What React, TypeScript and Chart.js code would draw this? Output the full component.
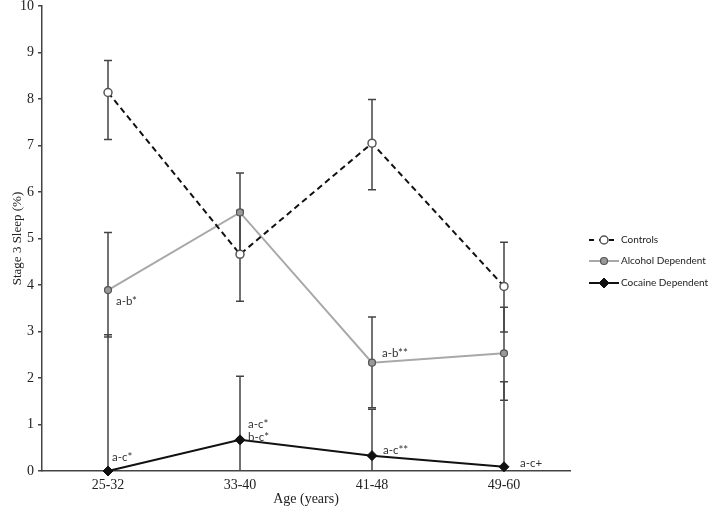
import React, { useEffect, useRef } from 'react';
import { Chart, registerables } from 'chart.js';

Chart.register(...registerables);

const categories = ['25-32', '33-40', '41-48', '49-60'];

const controls = [8.14, 4.66, 7.05, 3.97];
const controlsLow = [7.13, 3.65, 6.05, 2.99];
const controlsHigh = [8.83, 5.6, 7.99, 4.92];

const alcohol = [3.89, 5.56, 2.33, 2.53];
const alcoholLow = [2.88, 4.71, 1.36, 1.52];
const alcoholHigh = [5.13, 6.41, 3.31, 3.52];

const cocaine = [0, 0.67, 0.33, 0.09];
const cocaineLow = [0, 0, 0, 0];
const cocaineHigh = [2.93, 2.04, 1.33, 1.92];

const seriesNames = ['Controls', 'Alcohol Dependent', 'Cocaine Dependent'];

// significance labels: [seriesIndex, categoryIndex, text lines]
const annotationSeries = [1, 2, 2, 1, 2, 2];
const annotationIndex = [0, 0, 1, 2, 2, 3];
const annotationText = [['a-b*'], ['a-c*'], ['a-c*', 'b-c*'], ['a-b**'], ['a-c**'], ['a-c+']];
// label offsets relative to the point (style only)
const annotationOffset = [[8, 11], [4, -14], [8, -16], [10, -9], [11, -5], [16, -4]];

const AXIS = '#444';
const SERIF = '"Liberation Serif", "Times New Roman", serif';
const SANS = 'Lato, "Open Sans", sans-serif';

const lows = [controlsLow, alcoholLow, cocaineLow];
const highs = [controlsHigh, alcoholHigh, cocaineHigh];

const errorBarPlugin = {
  id: 'errorBars',
  beforeDatasetsDraw(chart: any) {
    const { ctx, scales } = chart;
    const xs = scales.x;
    const ys = scales.y;
    ctx.save();
    ctx.strokeStyle = AXIS;
    ctx.lineWidth = 1.5;
    ctx.setLineDash([]);
    for (let s = 0; s < 3; s++) {
      for (let i = 0; i < categories.length; i++) {
        const x = xs.getPixelForValue(i);
        const yl = ys.getPixelForValue(lows[s][i]);
        const yh = ys.getPixelForValue(highs[s][i]);
        ctx.beginPath();
        ctx.moveTo(x, yl);
        ctx.lineTo(x, yh);
        ctx.moveTo(x - 4, yh);
        ctx.lineTo(x + 4, yh);
        if (lows[s][i] > 0) {
          ctx.moveTo(x - 4, yl);
          ctx.lineTo(x + 4, yl);
        }
        ctx.stroke();
      }
    }
    ctx.restore();
  },
};

const annotationPlugin = {
  id: 'sigLabels',
  afterDatasetsDraw(chart: any) {
    const { ctx } = chart;
    ctx.save();
    ctx.font = '11.5px ' + SANS;
    ctx.fillStyle = '#333';
    ctx.textAlign = 'left';
    ctx.textBaseline = 'middle';
    for (let k = 0; k < annotationText.length; k++) {
      const meta = chart.getDatasetMeta(annotationSeries[k]);
      const el = meta.data[annotationIndex[k]];
      const [dx, dy] = annotationOffset[k];
      annotationText[k].forEach((t, j) => {
        ctx.fillText(t, el.x + dx, el.y + dy + j * 13);
      });
    }
    ctx.restore();
  },
};

function drawMarker(ctx: CanvasRenderingContext2D, ds: any, x: number, y: number) {
  ctx.save();
  ctx.setLineDash([]);
  ctx.fillStyle = ds.pointBackgroundColor;
  ctx.strokeStyle = ds.pointBorderColor;
  ctx.lineWidth = ds.pointBorderWidth;
  const r = ds.pointRadius;
  ctx.beginPath();
  if (ds.pointStyle === 'rectRot') {
    ctx.moveTo(x, y - r);
    ctx.lineTo(x + r, y);
    ctx.lineTo(x, y + r);
    ctx.lineTo(x - r, y);
    ctx.closePath();
  } else {
    ctx.arc(x, y, r, 0, Math.PI * 2);
  }
  ctx.fill();
  ctx.stroke();
  ctx.restore();
}

const legendPlugin = {
  id: 'customLegend',
  afterDraw(chart: any) {
    const { ctx } = chart;
    const rowsY = [240, 261, 283];
    ctx.save();
    chart.data.datasets.forEach((ds: any, i: number) => {
      const y = rowsY[i];
      ctx.strokeStyle = ds.borderColor;
      ctx.lineWidth = ds.borderWidth;
      ctx.setLineDash(ds.borderDash ? [5, 5] : []);
      ctx.beginPath();
      ctx.moveTo(589, y);
      ctx.lineTo(619, y);
      ctx.stroke();
      drawMarker(ctx, ds, 604, y);
      ctx.setLineDash([]);
      ctx.font = '10px ' + SANS;
      ctx.fillStyle = '#222';
      ctx.textAlign = 'left';
      ctx.textBaseline = 'middle';
      ctx.fillText(ds.label, 621, y);
    });
    ctx.restore();
  },
};

export default function App() {
  const ref = useRef<HTMLCanvasElement | null>(null);

  useEffect(() => {
    if (!ref.current) return;
    const chart = new Chart(ref.current, {
      type: 'line',
      data: {
        labels: categories,
        datasets: [
          {
            label: seriesNames[0],
            data: controls,
            borderColor: '#111',
            borderWidth: 2,
            borderDash: [6, 4],
            pointStyle: 'circle',
            pointRadius: 4,
            pointBackgroundColor: '#fff',
            pointBorderColor: '#555',
            pointBorderWidth: 1.5,
            clip: false,
          } as any,
          {
            label: seriesNames[1],
            data: alcohol,
            borderColor: '#a8a8a8',
            borderWidth: 2,
            pointStyle: 'circle',
            pointRadius: 3.5,
            pointBackgroundColor: '#999',
            pointBorderColor: '#555',
            pointBorderWidth: 1.2,
            clip: false,
          } as any,
          {
            label: seriesNames[2],
            data: cocaine,
            borderColor: '#111',
            borderWidth: 2,
            pointStyle: 'rectRot',
            pointRadius: 5,
            pointBackgroundColor: '#111',
            pointBorderColor: '#111',
            pointBorderWidth: 1,
            clip: false,
          } as any,
        ],
      },
      options: {
        responsive: false,
        animation: false,
        layout: { padding: { top: 5, right: 139, left: 0, bottom: 0 } },
        plugins: {
          legend: { display: false },
          tooltip: { enabled: false },
        },
        scales: {
          x: {
            type: 'category',
            offset: true,
            grid: { display: true, drawOnChartArea: false, drawTicks: false },
            border: { display: true, color: AXIS, width: 1.5 },
            ticks: {
              font: { family: SERIF, size: 14 },
              color: '#222',
              padding: 6,
              maxRotation: 0,
            },
            title: {
              display: true,
              text: 'Age (years)',
              font: { family: SERIF, size: 14 },
              color: '#222',
              padding: { top: 0, bottom: 6 },
            },
            afterFit: (s: any) => {
              s.height = 43;
              s.paddingLeft = 0;
              s.paddingRight = 0;
            },
          } as any,
          y: {
            min: 0,
            max: 10,
            ticks: {
              stepSize: 1,
              font: { family: SERIF, size: 14 },
              color: '#222',
              padding: 4,
            },
            grid: {
              drawOnChartArea: false,
              drawTicks: true,
              tickLength: 4,
              color: AXIS,
              lineWidth: 1.5,
            },
            border: { display: true, color: AXIS, width: 1.5 },
            title: {
              display: true,
              text: 'Stage 3 Sleep (%)',
              font: { family: SERIF, size: 13 },
              color: '#222',
              padding: { top: 10, bottom: 0 },
            },
            afterFit: (s: any) => {
              s.width = 42;
              s.paddingTop = 0;
              s.paddingBottom = 0;
            },
          } as any,
        },
      },
      plugins: [errorBarPlugin, annotationPlugin, legendPlugin],
    });
    return () => chart.destroy();
  }, []);

  return (
    <div style={{ position: 'fixed', left: 0, top: 0, width: 709, height: 514, background: '#fff' }}>
      <canvas ref={ref} width={709} height={514} />
    </div>
  );
}
